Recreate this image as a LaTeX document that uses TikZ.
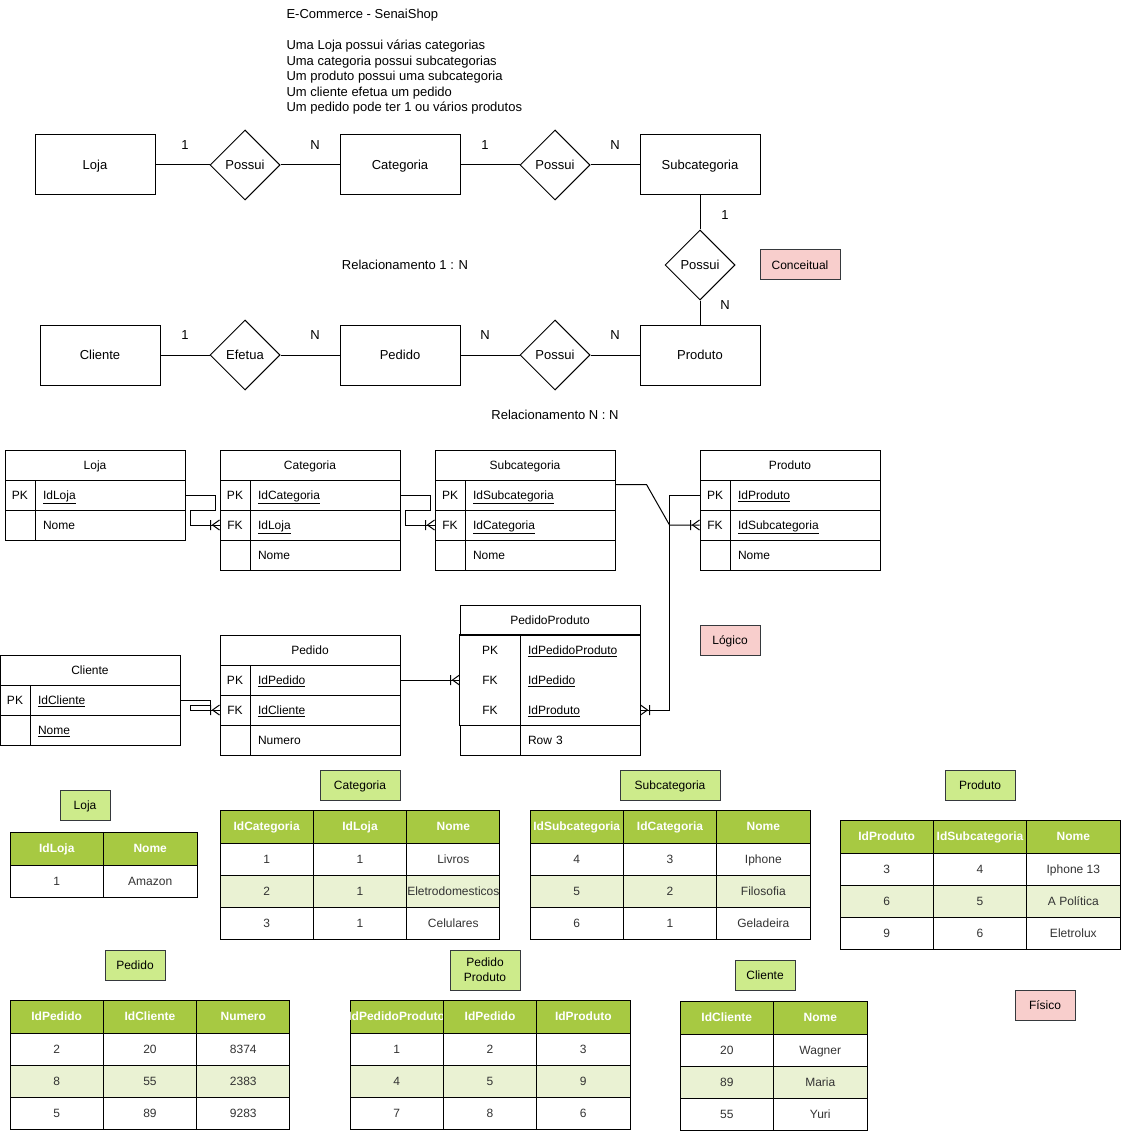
\documentclass[tikz,border=0pt]{standalone}
\usepackage{fontspec}
\setmainfont{Liberation Sans}
\usepackage{xcolor}
\usetikzlibrary{shapes.geometric}
\definecolor{pinkfill}{HTML}{F8CECC}
\definecolor{greenlbl}{HTML}{CDEB8B}
\definecolor{boxline}{HTML}{36393D}
\definecolor{headgreen}{HTML}{A7C942}
\definecolor{rowgreen}{HTML}{EAF2D3}
\definecolor{celltext}{HTML}{333333}
\tikzset{
  big/.style={font=\fontsize{13}{15}\selectfont, text height=11.8pt, text depth=2.5pt},
  small/.style={font=\fontsize{12}{14}\selectfont, text height=11pt, text depth=2.4pt},
  ent/.style={draw, big, minimum width=120pt, minimum height=60pt, inner sep=0pt},
  rel/.style={draw, big, diamond, aspect=1, minimum width=70pt, minimum height=70pt,
    inner sep=0pt},
  card/.style={big, inner sep=0pt},
  tag/.style={draw=boxline, fill=pinkfill, small, minimum height=30pt, inner sep=0pt},
  lbl/.style={draw=boxline, fill=greenlbl, small, minimum height=30pt, inner sep=0pt},
  erhead/.style={draw, small, minimum width=180pt, minimum height=30pt, inner sep=0pt},
  erkey/.style={draw, small, minimum height=30pt, inner sep=0pt},
  erfield/.style={draw, small, minimum height=30pt, inner xsep=8pt, inner ysep=0pt,
    align=left},
  phead/.style={draw=black, fill=headgreen, text=white, small, minimum height=33pt,
    inner sep=0pt, font=\fontsize{12}{14}\selectfont\bfseries},
  pcell/.style={draw=black, text=celltext, small, minimum height=32pt, inner sep=0pt},
  prow1/.style={fill=white},
  prow2/.style={fill=rowgreen},
  prow3/.style={fill=white}
}
% logical model: table title and one row (key column + field column)
\newcommand\ERhead[4]{
  \node[erhead] (#1) at ({#2+90},{#3+15}) {#4};
}
\newcommand\ERrow[7][]{
  \pgfmathsetmacro\fldw{180-#5}
  \pgfmathsetmacro\fldtw{180-#5-16}
  \node[erkey,#1,minimum width=#5pt] (#2k) at ({#3+#5/2},{#4+15}) {#6};
  \node[erfield,#1,text width=\fldtw pt] (#2) at ({#3+#5+\fldw/2},{#4+15}) {#7};
}
% crow's foot, table to the east / to the west of the point
\newcommand\ERmanyW[1]{
  \draw ([xshift=-7pt]#1) -- ([yshift=5pt]#1)
        ([xshift=-7pt]#1) -- ([yshift=-5pt]#1)
        ([xshift=-9pt,yshift=5pt]#1) -- ([xshift=-9pt,yshift=-5pt]#1);
}
\newcommand\ERmanyE[1]{
  \draw ([xshift=7pt]#1) -- ([yshift=5pt]#1)
        ([xshift=7pt]#1) -- ([yshift=-5pt]#1)
        ([xshift=9pt,yshift=5pt]#1) -- ([xshift=9pt,yshift=-5pt]#1);
}
% physical model: tables with 3 and 2 columns
\newcommand\Ptab[6]{
  \foreach \h [count=\j] in {#5}
    \node[phead,minimum width=#4pt] (#1-h\j) at ({#2+#4*(\j-0.5)},{#3+16.5}) {\makebox[0pt]{\h}};
  \foreach \a/\b/\d [count=\i] in {#6} {
    \node[pcell,prow\i,minimum width=#4pt] (#1-\i-a) at ({#2+#4*0.5},{#3+33+32*(\i-0.5)}) {\makebox[0pt]{\a}};
    \node[pcell,prow\i,minimum width=#4pt] (#1-\i-b) at ({#2+#4*1.5},{#3+33+32*(\i-0.5)}) {\makebox[0pt]{\b}};
    \node[pcell,prow\i,minimum width=#4pt] (#1-\i-c) at ({#2+#4*2.5},{#3+33+32*(\i-0.5)}) {\makebox[0pt]{\d}};
  }
}
\newcommand\PtabTwo[6]{
  \foreach \h [count=\j] in {#5}
    \node[phead,minimum width=#4pt] (#1-h\j) at ({#2+#4*(\j-0.5)},{#3+16.5}) {\makebox[0pt]{\h}};
  \foreach \a/\b [count=\i] in {#6} {
    \node[pcell,prow\i,minimum width=#4pt] (#1-\i-a) at ({#2+#4*0.5},{#3+33+32*(\i-0.5)}) {\makebox[0pt]{\a}};
    \node[pcell,prow\i,minimum width=#4pt] (#1-\i-b) at ({#2+#4*1.5},{#3+33+32*(\i-0.5)}) {\makebox[0pt]{\b}};
  }
}
\begin{document}
\begin{tikzpicture}[x=1pt, y=-1pt, line width=1pt]
\useasboundingbox[fill=white] (0,0) rectangle (1121,1131);

\node[anchor=north west, align=left, inner sep=0pt, font=\fontsize{13}{15.5}\selectfont]
  (titulo) at (286,9) {E-Commerce - SenaiShop\\[15.5pt]
  Uma Loja possui várias categorias\\
  Uma categoria possui subcategorias\\
  Um produto possui uma subcategoria\\
  Um cliente efetua um pedido\\
  Um pedido pode ter 1 ou vários produtos};

% conceitual
\node[ent] (loja) at (95,165) {Loja};
\node[rel] (possui1) at (245,165) {Possui};
\node[ent] (categoria) at (400,165) {Categoria};
\node[rel] (possui2) at (555,165) {Possui};
\node[ent] (subcat) at (700,165) {Subcategoria};
\node[rel] (possui3) at (700,265) {Possui};
\node[ent] (produto) at (700,355) {Produto};
\node[ent] (cliente) at (100,355) {Cliente};
\node[rel] (efetua) at (245,355) {Efetua};
\node[ent] (pedido) at (400,355) {Pedido};
\node[rel] (possui4) at (555,355) {Possui};
\draw (loja) -- (possui1) -- (categoria) -- (possui2) -- (subcat);
\draw (subcat) -- (possui3) -- (produto);
\draw (cliente) -- (efetua) -- (pedido) -- (possui4) -- (produto);
\node[card] (c1) at (185,145) {1};
\node[card] (c2) at (315,145) {N};
\node[card] (c3) at (485,145) {1};
\node[card] (c4) at (615,145) {N};
\node[card] (c5) at (725,215) {1};
\node[card] (c6) at (725,305) {N};
\node[card] (c7) at (185,335) {1};
\node[card] (c8) at (315,335) {N};
\node[card] (c9) at (485,335) {N};
\node[card] (c10) at (615,335) {N};
\node[card] (rel1n) at (405,265) {Relacionamento 1 : N};
\node[card] (relnn) at (555,415) {Relacionamento N : N};
\node[tag, minimum width=80pt] (conceitual) at (800,265) {Conceitual};

% logico
\ERhead{lojaT}{5}{450}{Loja}
\ERrow{lojaPK}{5}{480}{30}{PK}{\underline{IdLoja}}
\ERrow{lojaNome}{5}{510}{30}{}{Nome}

\ERhead{catT}{220}{450}{Categoria}
\ERrow{catPK}{220}{480}{30}{PK}{\underline{IdCategoria}}
\ERrow{catFK}{220}{510}{30}{FK}{\underline{IdLoja}}
\ERrow{catNome}{220}{540}{30}{}{Nome}

\ERhead{subT}{435}{450}{Subcategoria}
\ERrow{subPK}{435}{480}{30}{PK}{\underline{IdSubcategoria}}
\ERrow{subFK}{435}{510}{30}{FK}{\underline{IdCategoria}}
\ERrow{subNome}{435}{540}{30}{}{Nome}

\ERhead{prodT}{700}{450}{Produto}
\ERrow{prodPK}{700}{480}{30}{PK}{\underline{IdProduto}}
\ERrow{prodFK}{700}{510}{30}{FK}{\underline{IdSubcategoria}}
\ERrow{prodNome}{700}{540}{30}{}{Nome}

\ERhead{cliT}{0}{655}{Cliente}
\ERrow{cliPK}{0}{685}{30}{PK}{\underline{IdCliente}}
\ERrow{cliNome}{0}{715}{30}{}{\underline{Nome}}

\ERhead{pedT}{220}{635}{Pedido}
\ERrow{pedPK}{220}{665}{30}{PK}{\underline{IdPedido}}
\ERrow{pedFK}{220}{695}{30}{FK}{\underline{IdCliente}}
\ERrow{pedNum}{220}{725}{30}{}{Numero}

\ERhead{ppT}{460}{605}{PedidoProduto}
\ERrow[draw=none]{ppPK}{460}{635}{60}{PK}{\underline{IdPedidoProduto}}
\ERrow[draw=none]{ppPed}{460}{665}{60}{FK}{\underline{IdPedido}}
\ERrow[draw=none]{ppProd}{460}{695}{60}{FK}{\underline{IdProduto}}
\ERrow{ppRow}{460}{725}{60}{}{Row 3}
\draw (ppPKk.north west) rectangle (ppProd.south east);
\draw (ppPKk.north east) -- (ppProdk.south east);

\draw (lojaPK.east) -- ++(30,0) -- ++(0,15) -- ++(-25,0) -- ++(0,15) -- (catFKk.west);
\ERmanyW{catFKk.west}
\draw (catPK.east) -- ++(30,0) -- ++(0,15) -- ++(-25,0) -- ++(0,15) -- (subFKk.west);
\ERmanyW{subFKk.west}
\draw ([yshift=-5pt]subPK.north east) -- ++(31,0) -- ([xshift=-30pt]prodFKk.west) -- (prodFKk.west);
\ERmanyW{prodFKk.west}
\draw (prodPKk.west) -- ++(-30,0) |- (ppProd.east);
\ERmanyE{ppProd.east}
\draw (pedPK.east) -- (ppPedk.west);
\ERmanyW{ppPedk.west}
\draw (cliPK.east) -- ++(30,0) -- ++(0,5) -- ++(-20,0) -- ++(0,5) -- (pedFKk.west);
\ERmanyW{pedFKk.west}
\node[tag, minimum width=60pt] (logico) at (730,640) {Lógico};

% fisico
\node[lbl, minimum width=50pt] (lLoja) at (85,805) {Loja};
\node[lbl, minimum width=80pt] (lCat) at (360,785) {Categoria};
\node[lbl, minimum width=100pt] (lSub) at (670,785) {Subcategoria};
\node[lbl, minimum width=70pt] (lProd) at (980,785) {Produto};
\node[lbl, minimum width=60pt] (lPed) at (135,965) {Pedido};
\node[lbl, minimum width=70pt, minimum height=40pt, text height=, text depth=, align=center,
  font=\fontsize{12}{15}\selectfont] (lPP) at (485,970) {Pedido\\Produto};
\node[lbl, minimum width=60pt] (lCli) at (765,975) {Cliente};

\PtabTwo{fLoja}{10}{832}{93.5}{IdLoja,Nome}{1/Amazon}
\Ptab{fCat}{220}{810}{93.33}{IdCategoria,IdLoja,Nome}{1/1/Livros,2/1/Eletrodomesticos,3/1/Celulares}
\Ptab{fSub}{530}{810}{93.33}{IdSubcategoria,IdCategoria,Nome}{4/3/Iphone,5/2/Filosofia,6/1/Geladeira}
\Ptab{fProd}{840}{820}{93.33}{IdProduto,IdSubcategoria,Nome}{3/4/Iphone 13,6/5/A Política,9/6/Eletrolux}
\Ptab{fPed}{10}{1000}{93.33}{IdPedido,IdCliente,Numero}{2/20/8374,8/55/2383,5/89/9283}
\Ptab{fPP}{350}{1000}{93.33}{IdPedidoProduto,IdPedido,IdProduto}{1/2/3,4/5/9,7/8/6}
\PtabTwo{fCli}{680}{1001}{93.5}{IdCliente,Nome}{20/Wagner,89/Maria,55/Yuri}
\node[tag, minimum width=60pt] (fisico) at (1045,1005) {Físico};
\end{tikzpicture}
\end{document}
